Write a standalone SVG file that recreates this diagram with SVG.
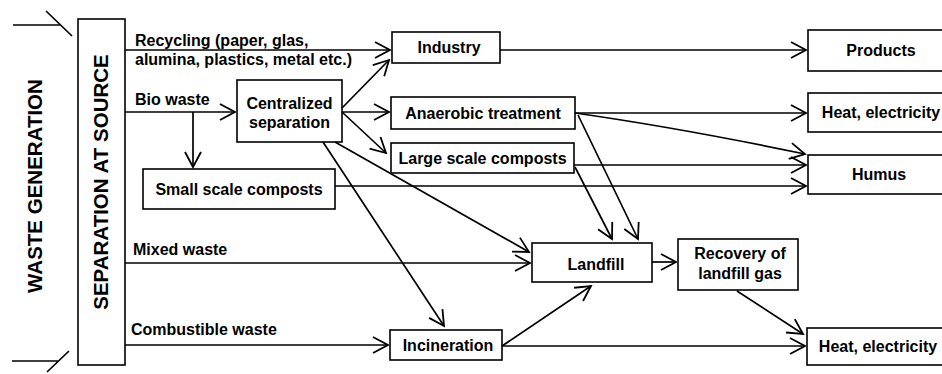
<svg xmlns="http://www.w3.org/2000/svg" width="942" height="374" viewBox="0 0 942 374">
<defs>
<style>
.box{fill:#fff;stroke:#000;stroke-width:1.6}
.t{font-family:"Liberation Sans",Arial,Helvetica,sans-serif;font-size:16px;font-weight:bold;fill:#000}
.c{text-anchor:middle}
.big{font-family:"Liberation Sans",Arial,Helvetica,sans-serif;font-size:20.5px;font-weight:bold;fill:#000;text-anchor:middle}
.ln{fill:none;stroke:#000;stroke-width:1.7}
.ar{fill:none;stroke:#000;stroke-width:1.7;marker-end:url(#ah)}
</style>
<marker id="ah" viewBox="0 0 18 18" refX="16" refY="9" markerWidth="18" markerHeight="18" markerUnits="userSpaceOnUse" orient="auto">
<path d="M1,1 L16,9 L1,17" fill="none" stroke="#000" stroke-width="1.8"/>
</marker>
</defs>
<rect width="942" height="374" fill="#fff"/>

<g id="waste-generation">
<path class="ln" d="M13,25 H60 M46,11 L72,36"/>
<path class="ln" d="M12,361 H58 M69,351 L47,372"/>
<text class="big" transform="translate(42,186) rotate(-90)">WASTE GENERATION</text>
</g>

<g id="separation-at-source">
<rect class="box" x="78" y="19" width="47" height="346"/>
<text class="big" transform="translate(108,182) rotate(-90)">SEPARATION AT SOURCE</text>
</g>

<g id="centralized-separation">
<rect class="box" x="237" y="80" width="105" height="62"/>
<text class="t c" x="289.5" y="109">Centralized</text>
<text class="t c" x="289.5" y="128">separation</text>
</g>

<g id="small-scale-composts">
<rect class="box" x="143" y="169" width="192" height="40"/>
<text class="t c" x="239" y="195">Small scale composts</text>
</g>

<g id="industry">
<rect class="box" x="392" y="32" width="108" height="31"/>
<text class="t c" x="449" y="53">Industry</text>
</g>

<g id="anaerobic-treatment">
<rect class="box" x="391" y="97" width="184" height="32"/>
<text class="t c" x="483" y="119">Anaerobic treatment</text>
</g>

<g id="large-scale-composts">
<rect class="box" x="391" y="143" width="183" height="30"/>
<text class="t c" x="482.5" y="164">Large scale composts</text>
</g>

<g id="products">
<rect class="box" x="808" y="30" width="146" height="41"/>
<text class="t c" x="881" y="56">Products</text>
</g>

<g id="heat-electricity-1">
<rect class="box" x="808" y="93" width="146" height="39"/>
<text class="t c" x="881" y="118">Heat, electricity</text>
</g>

<g id="humus">
<rect class="box" x="808" y="155" width="146" height="39"/>
<text class="t c" x="879" y="180">Humus</text>
</g>

<g id="landfill">
<rect class="box" x="532" y="243" width="120" height="39"/>
<text class="t c" x="596" y="270">Landfill</text>
</g>

<g id="recovery-of-landfill-gas">
<rect class="box" x="678" y="239" width="120" height="51"/>
<text class="t c" x="740" y="259">Recovery of</text>
<text class="t c" x="740" y="279">landfill gas</text>
</g>

<g id="incineration">
<rect class="box" x="390" y="330" width="112" height="30"/>
<text class="t c" x="448" y="351">Incineration</text>
</g>

<g id="heat-electricity-2">
<rect class="box" x="807" y="328" width="146" height="37"/>
<text class="t c" x="878" y="352">Heat, electricity</text>
</g>

<g id="connectors">
<path class="ar" d="M125,50 H390"/>
<path class="ar" d="M500,50 H806"/>
<path class="ar" d="M125,112 H235"/>
<path class="ar" d="M193,112 V167"/>
<path class="ar" d="M342,108 L389,60"/>
<path class="ar" d="M342,112 H389"/>
<path class="ar" d="M342,112 L386,153"/>
<path class="ar" d="M335,142 L529,252"/>
<path class="ar" d="M323,142 L444,326"/>
<path class="ar" d="M125,263 H530"/>
<path class="ar" d="M125,345 H388"/>
<path class="ar" d="M502,346 L591,286"/>
<path class="ar" d="M502,346 H805"/>
<path class="ar" d="M652,262 H676"/>
<path class="ar" d="M737,291 L803,334"/>
<path class="ar" d="M575,113 H806"/>
<path class="ar" d="M575,113 Q680,128 805,154"/>
<path class="ar" d="M574,165 H806"/>
<path class="ar" d="M335,186 H806"/>
<path class="ar" d="M578,115 L638,239"/>
<path class="ar" d="M575,167 L612,239"/>
<text class="t" x="135" y="46">Recycling (paper, glas,</text>
<text class="t" x="135" y="65">alumina, plastics, metal etc.)</text>
<text class="t" x="135" y="105">Bio waste</text>
<text class="t" x="133" y="255">Mixed waste</text>
<text class="t" x="131" y="335">Combustible waste</text>
</g>
</svg>
